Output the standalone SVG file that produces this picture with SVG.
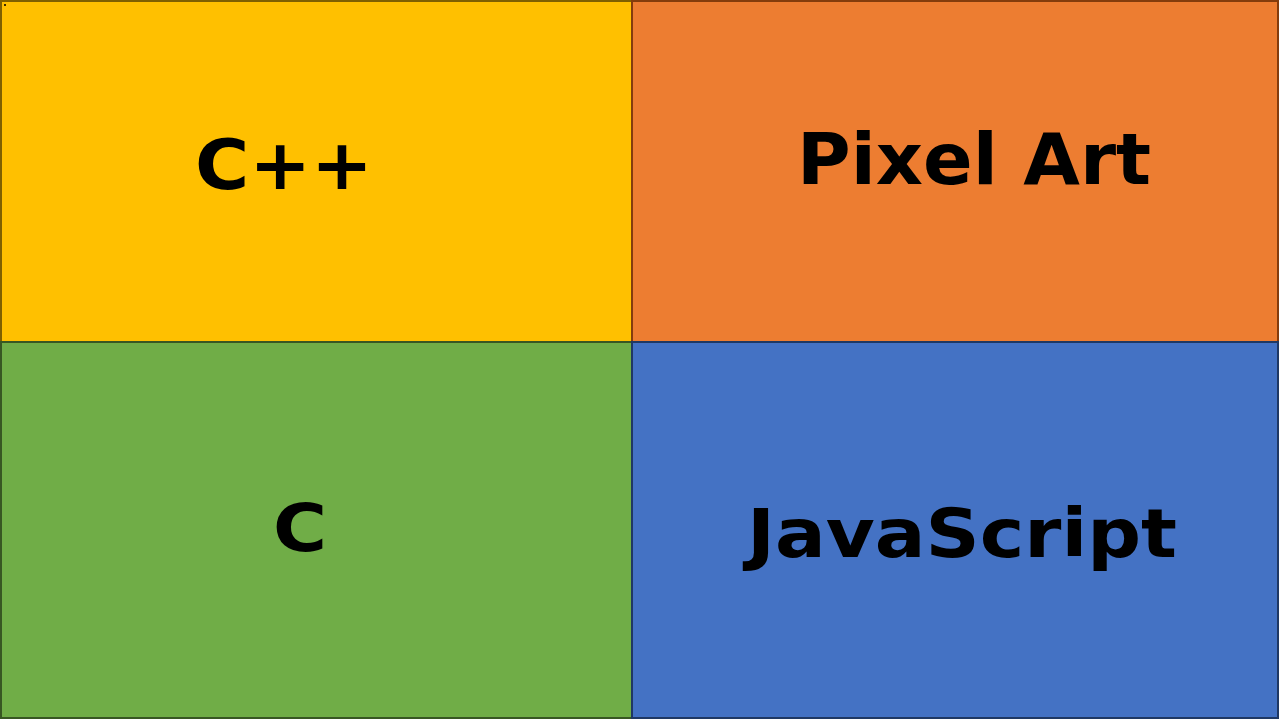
<svg xmlns="http://www.w3.org/2000/svg" width="1280" height="720" viewBox="0 0 1280 720">
<style>
  .lbl { font-family: "DejaVu Sans", Verdana, sans-serif; font-weight: bold; fill: #000; text-anchor: middle; }
  .box { stroke-width: 2; }
</style>
<rect width="1280" height="720" fill="#ffffff"/>
<g id="node-cpp">
  <rect class="box" x="1" y="1" width="631" height="341" fill="#FFC000" stroke="#7F6000"/>
  <text class="lbl" x="284" y="189" font-size="70" textLength="178" lengthAdjust="spacingAndGlyphs">C++</text>
</g>
<g id="node-pixelart">
  <rect class="box" x="632" y="1" width="646" height="341" fill="#ED7D31" stroke="#843C0C"/>
  <text class="lbl" x="974" y="184" font-size="71" textLength="354" lengthAdjust="spacingAndGlyphs">Pixel Art</text>
</g>
<g id="node-c">
  <rect class="box" x="1" y="342" width="631" height="376" fill="#70AD47" stroke="#385723"/>
  <text class="lbl" x="300" y="551" font-size="66" textLength="54" lengthAdjust="spacingAndGlyphs">C</text>
</g>
<g id="node-javascript">
  <rect class="box" x="632" y="342" width="646" height="376" fill="#4472C4" stroke="#1F3864"/>
  <text class="lbl" x="962" y="557" font-size="67" textLength="430" lengthAdjust="spacingAndGlyphs">JavaScript</text>
</g>
<g id="connectors"></g>
<rect x="4" y="4" width="2" height="2" fill="#3a2a00"/>
</svg>
